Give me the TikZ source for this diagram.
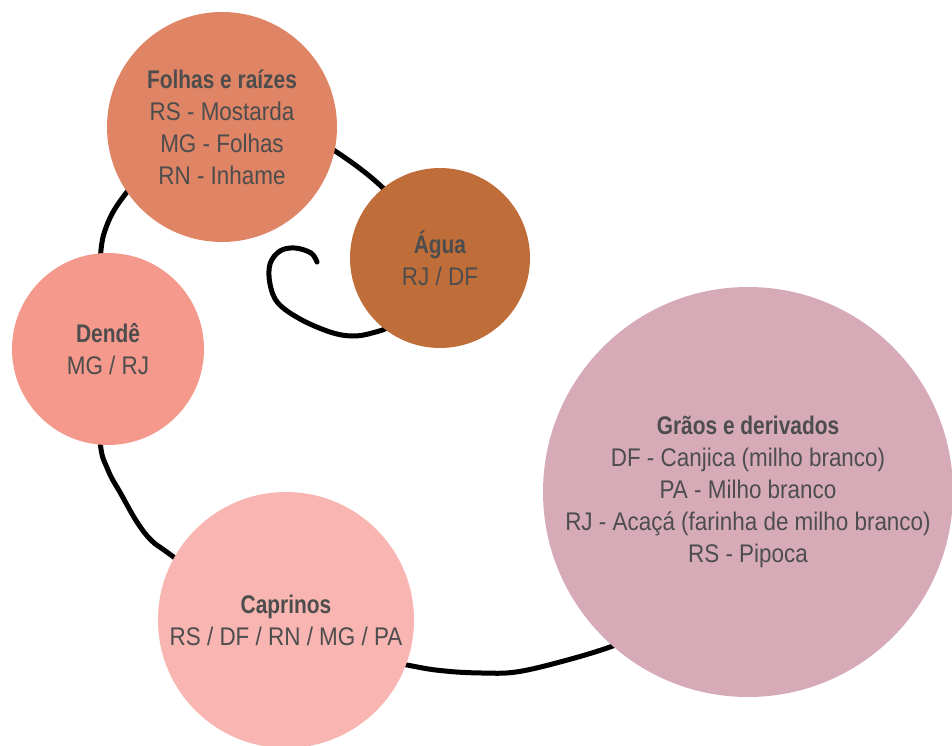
\documentclass[tikz,border=0pt]{standalone}
\usepackage{fontspec}
\setmainfont{Liberation Sans}[FakeStretch=0.88,BoldFeatures={FakeStretch=0.82}]
\definecolor{txt}{HTML}{4D4D4D}
\definecolor{cfolhas}{HTML}{DF8465}
\definecolor{cagua}{HTML}{BF6D39}
\definecolor{cdende}{HTML}{F4998B}
\definecolor{ccapr}{HTML}{F8B5B1}
\definecolor{cgraos}{HTML}{D6ABB7}
\begin{document}
\begin{tikzpicture}[x=1pt,y=-1pt,
  bubble/.style={circle,inner sep=0pt,text=txt,align=center,
    font=\fontsize{25.5}{32}\selectfont},
  curl/.style={line width=5pt,line cap=round,line join=round,black}]
\useasboundingbox (0,0) rectangle (952,746);
\coordinate (s0) at (317,262);
\draw[curl] (s0) plot[smooth,tension=0.6] coordinates {
  (317,262) (311,253) (295,248) (280,251) (270,264) (270,284) (278,303)
  (300,319) (330,332) (352,336) (372,333) (392,324)
  (418,292) (418,235) (385,190) (335,151)
  (290,128) (230,122) (170,145) (127,192) (107,225) (100,262)
  (98,350) (100,440) (108,470) (121,494) (137,522) (152,541) (175,558)
  (286,640) (407,665) (445,671) (482,673) (516,672) (560,662) (610,647) (650,630)};
\node[bubble,fill=cfolhas,minimum size=230pt] (folhas) at (222,127)
  {\textbf{Folhas e raízes}\\RS - Mostarda\\MG - Folhas\\RN - Inhame};
\node[bubble,fill=cagua,minimum size=180pt] (agua) at (440,258)
  {\textbf{Água}\\RJ / DF};
\node[bubble,fill=cdende,minimum size=192pt] (dende) at (108,349)
  {\textbf{Dendê}\\MG / RJ};
\node[bubble,fill=ccapr,minimum size=256pt] (capr) at (286,620)
  {\textbf{Caprinos}\\RS / DF / RN / MG / PA};
\node[bubble,fill=cgraos,minimum size=410pt] (graos) at (748,492)
  {\textbf{Grãos e derivados}\\DF - Canjica (milho branco)\\PA - Milho branco\\RJ - Acaçá (farinha de milho branco)\\RS - Pipoca};
\end{tikzpicture}
\end{document}
